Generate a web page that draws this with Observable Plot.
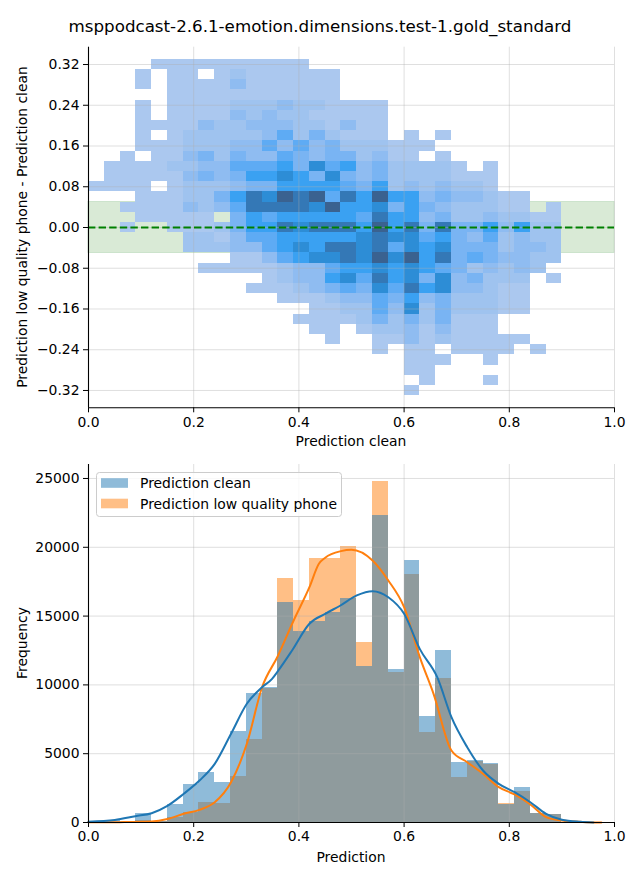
<!DOCTYPE html>
<html><head><meta charset="utf-8">
<script src="https://cdn.jsdelivr.net/npm/d3@7"></script>
<script src="https://cdn.jsdelivr.net/npm/@observablehq/plot@0.6"></script>
<style>
body{margin:0;background:#fff;}
#root{position:relative;width:640px;height:880px;overflow:hidden;font-family:"DejaVu Sans",sans-serif;}
#root > svg{position:absolute;left:0;}
</style></head><body><div id="root"></div>
<script>
// ---------- texts ----------
const title = "msppodcast-2.6.1-emotion.dimensions.test-1.gold_standard";
const topXLabel = "Prediction clean";
const topYLabel = "Prediction low quality phone - Prediction clean";
const bottomXLabel = "Prediction";
const bottomYLabel = "Frequency";
const legendLabels = ["Prediction clean", "Prediction low quality phone"];

// ---------- top panel: 2D histogram ----------
const heatXStart = 0, heatXStep = 0.03;     // 30 x-bins
const heatYTop = 0.33, heatYStep = 0.02;    // 33 y-bins (top to bottom)
// intensity level per cell ('.' = empty), rows top (0.32) to bottom (-0.32)
const heatRows = [
"....1111111111................",
"...1.11.12111111..............",
"...1.11113111111..............",
".....11111111111..............",
"...1.11112223221111...........",
"...1.11113232211111...........",
"...1111322333221311...........",
"...1.12222235242111.1.1.......",
"...1112223353534222111........",
"..1.11342433543442311.1.......",
".11112233555647563422221.1....",
".1111134346676474342222111....",
"1111.122234466665462323221....",
"...1112246879895869663433211..",
"..11113235888879667464322211.1",
"...11111.465666665866342232211",
"..1..1112466878886968484463622",
"......221355666667877564352322",
"......222335676887857674442332",
".........113567787979684543322",
".......1111123356676765423232.",
"...........12336758674734222.1",
"..........111234547586733211..",
"............1112335463422211..",
"..............11225372422211..",
".............1111242424111....",
"..............11.122313111....",
"...............1..1131211111..",
"..................1.11.1111.1.",
"....................111..1....",
"....................11........",
".....................1...1....",
"....................1........."
];
const topYTicks = [0.32, 0.24, 0.16, 0.08, 0, -0.08, -0.16, -0.24, -0.32];
const xTicks = [0, 0.2, 0.4, 0.6, 0.8, 1.0];
const band = [{lo: -0.05, hi: 0.05}];
const zeroLine = [0];

// ---------- bottom panel: histograms ----------
const histStart = 0, histStep = 0.03;
const cleanCounts = [20,150,100,630,80,1300,2760,3630,2900,6630,9370,9830,16010,13900,14580,15260,16280,11340,22310,11100,19040,7700,12500,4360,4500,4260,1330,2540,630,580];
const phoneCounts = [0,30,20,150,60,350,730,1450,1400,3340,6060,9760,17730,16130,19190,19190,20060,13080,24780,10920,18020,6560,10460,3290,4450,4230,1380,2250,640,600];
const kdeCleanX = [0,0.05,0.089,0.12,0.15,0.181,0.211,0.24,0.271,0.301,0.33,0.349,0.361,0.387,0.42,0.45,0.479,0.51,0.54,0.57,0.60,0.63,0.663,0.69,0.72,0.75,0.78,0.81,0.84,0.87,0.90,0.935,0.96];
const kdeCleanY = [60,180,458,677,1210,2083,3050,4260,6450,8630,9830,10440,11050,12500,14440,15165,15770,16500,16810,16370,15165,12600,10560,7650,5470,3780,2810,2200,1475,630,200,50,0];
const kdePhoneX = [0,0.06,0.12,0.15,0.181,0.211,0.24,0.271,0.301,0.33,0.36,0.39,0.42,0.438,0.45,0.48,0.50,0.54,0.57,0.60,0.63,0.656,0.69,0.72,0.75,0.78,0.81,0.84,0.87,0.90,0.94,0.975];
const kdePhoneY = [10,25,73,250,630,920,1475,2930,5720,9830,12100,14680,17100,18800,19240,19720,19820,19040,17590,15650,12000,9350,5230,4380,3540,2570,2035,1310,390,145,40,0];
const bottomYTicks = [0, 5000, 10000, 15000, 20000, 25000];

// ---------- styles ----------
const heatPalette = ["#abc8ef","#9fc3ef","#8fbcf1","#79b4f3","#5eabf4","#3aa1f2","#2d8dd6","#3478b6","#3a6290"];
const cBlue = "#1f77b4", cOrange = "#ff7f0e";
const gridStyle = {stroke: "#b0b0b0", strokeOpacity: 0.5, strokeWidth: 0.8};
const baseStyle = {fontFamily: "DejaVu Sans", fontSize: "13.9px", color: "#000", background: "transparent", overflow: "visible"};

// ---------- build tables ----------
const cells = [];
heatRows.forEach((row, r) => {
  row.padEnd(30, ".").split("").forEach((ch, c) => {
    if (ch !== ".") cells.push({
      x1: heatXStart + c * heatXStep, x2: heatXStart + (c + 1) * heatXStep,
      y1: heatYTop - (r + 1) * heatYStep, y2: heatYTop - r * heatYStep, level: +ch
    });
  });
});
const bars = (counts) => counts.map((v, i) => ({x1: histStart + i * histStep, x2: histStart + (i + 1) * histStep, v}));
const cleanBars = bars(cleanCounts), phoneBars = bars(phoneCounts);
const kdeClean = kdeCleanX.map((x, i) => ({x, y: kdeCleanY[i]}));
const kdePhone = kdePhoneX.map((x, i) => ({x, y: kdePhoneY[i]}));

const topYDomain = [-0.354, 0.354];
const bottomYDomain = [0, 26016];

const topPlot = Plot.plot({
  width: 640, height: 455,
  marginLeft: 88, marginRight: 26, marginTop: 46.7, marginBottom: 47.7,
  x: {domain: [0, 1]},
  y: {domain: topYDomain},
  color: {type: "ordinal", domain: d3.range(1, 10), range: heatPalette},
  style: baseStyle,
  marks: [
    Plot.rect(band, {x1: () => 0, x2: () => 1, y1: "lo", y2: "hi", fill: "#d9ead6", stroke: "#c4dfc4", strokeWidth: 0.8}),
    Plot.rect(cells, {x1: "x1", x2: "x2", y1: "y1", y2: "y2", fill: "level", shapeRendering: "crispEdges"}),
    Plot.gridX(xTicks, gridStyle),
    Plot.gridY(topYTicks, gridStyle),
    Plot.ruleY(zeroLine, {stroke: "#008000", strokeWidth: 2, strokeDasharray: "7.4,3.2"}),
    Plot.axisX(xTicks, {tickSize: 5, tickPadding: 4, tickFormat: d3.format(".1f"), label: null}),
    Plot.axisY(topYTicks, {tickSize: 5, tickPadding: 4, tickFormat: d3.format(".2f"), label: null}),
    Plot.ruleX([0], {stroke: "#000", strokeWidth: 1.1}),
    Plot.ruleY([topYDomain[0]], {stroke: "#000", strokeWidth: 1.1})
  ]
});
topPlot.style.top = "0px";

const bottomPlot = Plot.plot({
  width: 640, height: 425,
  marginLeft: 88, marginRight: 26, marginTop: 9, marginBottom: 58,
  x: {domain: [0, 1]},
  y: {domain: bottomYDomain},
  style: baseStyle,
  marks: [
    Plot.rect(phoneBars, {x1: "x1", x2: "x2", y1: () => 0, y2: "v", fill: cOrange, fillOpacity: 0.5, shapeRendering: "crispEdges"}),
    Plot.rect(cleanBars, {x1: "x1", x2: "x2", y1: () => 0, y2: "v", fill: cBlue, fillOpacity: 0.5, shapeRendering: "crispEdges"}),
    Plot.gridX(xTicks, gridStyle),
    Plot.gridY(bottomYTicks, gridStyle),
    Plot.line(kdePhone, {x: "x", y: "y", stroke: cOrange, strokeWidth: 2, curve: "monotone-x"}),
    Plot.line(kdeClean, {x: "x", y: "y", stroke: cBlue, strokeWidth: 2, curve: "monotone-x"}),
    Plot.axisX(xTicks, {tickSize: 5, tickPadding: 4, tickFormat: d3.format(".1f"), label: null}),
    Plot.axisY(bottomYTicks, {tickSize: 5, tickPadding: 4, tickFormat: d3.format("d"), label: null}),
    Plot.ruleX([0], {stroke: "#000", strokeWidth: 1.1}),
    Plot.ruleY([0], {stroke: "#000", strokeWidth: 1.1})
  ]
});
bottomPlot.style.top = "455px";

const root = document.getElementById("root");
root.appendChild(topPlot);
root.appendChild(bottomPlot);

// ---------- overlay: title, axis labels, legend ----------
const ns = "http://www.w3.org/2000/svg";
const ov = d3.select(root).append("svg")
  .attr("width", 640).attr("height", 880)
  .style("position", "absolute").style("top", "0px").style("left", "0px")
  .style("font-family", "DejaVu Sans").style("pointer-events", "none");

function txt(x, y, s, size, rot) {
  const t = ov.append("text").attr("x", x).attr("y", y)
    .attr("text-anchor", "middle").attr("dominant-baseline", "central")
    .attr("font-size", size).attr("fill", "#000").text(s);
  if (rot) t.attr("transform", `rotate(${rot},${x},${y})`);
  return t;
}
txt(320, 26, title, 16.7);
txt(351, 441, topXLabel, 13.9);
txt(22, 227, topYLabel, 13.9, -90);
txt(351, 857, bottomXLabel, 13.9);
txt(22, 643, bottomYLabel, 13.9, -90);

// legend
const lg = ov.append("g");
lg.append("rect").attr("x", 96.5).attr("y", 472.5).attr("width", 245).attr("height", 44)
  .attr("rx", 3).attr("fill", "#fff").attr("fill-opacity", 0.8).attr("stroke", "#cccccc").attr("stroke-width", 1);
[[cBlue, 0], [cOrange, 1]].forEach(([col, i]) => {
  const cy = 483 + i * 20.5;
  lg.append("rect").attr("x", 101).attr("y", cy - 4.8).attr("width", 27).attr("height", 9.6)
    .attr("fill", col).attr("fill-opacity", 0.5);
  lg.append("text").attr("x", 140).attr("y", cy).attr("dominant-baseline", "central")
    .attr("font-size", 13.9).attr("fill", "#000").text(legendLabels[i]);
});
</script>
</body></html>
